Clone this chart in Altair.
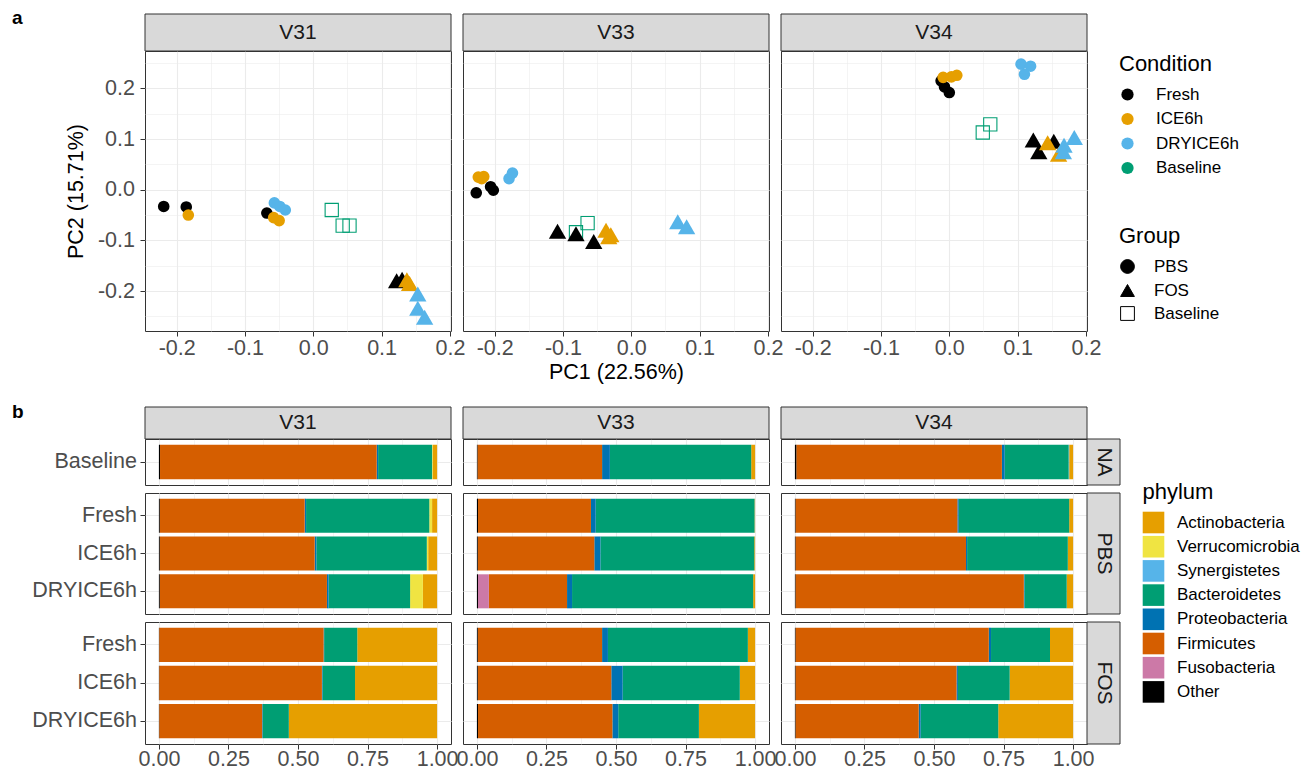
import altair as alt
import pandas as pd

FONT = "Liberation Sans"
W = 306
H_SCATTER = 280
ROW_H = {"NA": 46, "PBS": 121, "FOS": 122}

subjects = ["V31", "V33", "V34"]
conditions = ["Fresh", "ICE6h", "DRYICE6h", "Baseline"]
condition_colors = ["#000000", "#E69F00", "#56B4E9", "#009E73"]
groups = ["PBS", "FOS", "Baseline"]
group_shapes = ["circle", "triangle-up", "square"]
group_legend_fill = ["black", "black", "transparent"]
group_legend_stroke = ["black", "black", "black"]

# ---- PCA scores (panel a) ----
v31_condition = ["Fresh", "Fresh", "Fresh", "ICE6h", "ICE6h", "ICE6h", "DRYICE6h", "DRYICE6h", "DRYICE6h",
                 "Fresh", "Fresh", "ICE6h", "ICE6h", "DRYICE6h", "DRYICE6h", "DRYICE6h",
                 "Baseline", "Baseline", "Baseline"]
v31_group = ["PBS", "PBS", "PBS", "PBS", "PBS", "PBS", "PBS", "PBS", "PBS",
             "FOS", "FOS", "FOS", "FOS", "FOS", "FOS", "FOS",
             "Baseline", "Baseline", "Baseline"]
v31_pc1 = [-0.219, -0.186, -0.068, -0.183, -0.058, -0.050, -0.057, -0.049, -0.041,
           0.122, 0.130, 0.137, 0.141, 0.153, 0.153, 0.163,
           0.027, 0.043, 0.053]
v31_pc2 = [-0.033, -0.034, -0.046, -0.050, -0.055, -0.061, -0.026, -0.033, -0.040,
           -0.180, -0.177, -0.178, -0.185, -0.206, -0.234, -0.252,
           -0.040, -0.071, -0.071]

v33_condition = ["Fresh", "Fresh", "Fresh", "ICE6h", "ICE6h", "ICE6h", "DRYICE6h", "DRYICE6h",
                 "Fresh", "Fresh", "Fresh", "ICE6h", "ICE6h", "ICE6h", "DRYICE6h", "DRYICE6h",
                 "Baseline", "Baseline"]
v33_group = ["PBS", "PBS", "PBS", "PBS", "PBS", "PBS", "PBS", "PBS",
             "FOS", "FOS", "FOS", "FOS", "FOS", "FOS", "FOS", "FOS",
             "Baseline", "Baseline"]
v33_pc1 = [-0.227, -0.206, -0.202, -0.224, -0.216, -0.219, -0.179, -0.174,
           -0.108, -0.081, -0.055, -0.037, -0.030, -0.033, 0.068, 0.081,
           -0.064, -0.081]
v33_pc2 = [-0.006, 0.006, -0.001, 0.025, 0.026, 0.022, 0.022, 0.033,
           -0.082, -0.087, -0.102, -0.080, -0.089, -0.093, -0.063, -0.073,
           -0.066, -0.084]

v34_condition = ["Fresh", "Fresh", "Fresh", "ICE6h", "ICE6h", "ICE6h", "DRYICE6h", "DRYICE6h", "DRYICE6h",
                 "Fresh", "Fresh", "Fresh", "ICE6h", "ICE6h", "DRYICE6h", "DRYICE6h", "DRYICE6h",
                 "Baseline", "Baseline"]
v34_group = ["PBS", "PBS", "PBS", "PBS", "PBS", "PBS", "PBS", "PBS", "PBS",
             "FOS", "FOS", "FOS", "FOS", "FOS", "FOS", "FOS", "FOS",
             "Baseline", "Baseline"]
v34_pc1 = [-0.012, -0.007, 0.000, -0.009, 0.003, 0.011, 0.105, 0.119, 0.110,
           0.123, 0.131, 0.153, 0.144, 0.160, 0.183, 0.168, 0.167,
           0.060, 0.049]
v34_pc2 = [0.215, 0.203, 0.192, 0.222, 0.223, 0.226, 0.248, 0.244, 0.228,
           0.098, 0.075, 0.096, 0.093, 0.070, 0.103, 0.088, 0.075,
           0.129, 0.113]

# ---- relative abundance (panel b) ----
phyla = ["Actinobacteria", "Verrucomicrobia", "Synergistetes", "Bacteroidetes",
         "Proteobacteria", "Firmicutes", "Fusobacteria", "Other"]
phylum_colors = ["#E69F00", "#F0E442", "#56B4E9", "#009E73", "#0072B2", "#D55E00", "#CC79A7", "#000000"]
sample_rows = ["NA", "PBS", "PBS", "PBS", "FOS", "FOS", "FOS"]
sample_names = ["Baseline", "Fresh", "ICE6h", "DRYICE6h", "Fresh", "ICE6h", "DRYICE6h"]
# each row: abundances in phylum order above
v31_abund = [
    [0.016, 0.002, 0.000, 0.194, 0.005, 0.779, 0.000, 0.004],
    [0.018, 0.010, 0.000, 0.443, 0.005, 0.521, 0.000, 0.003],
    [0.032, 0.005, 0.000, 0.397, 0.006, 0.557, 0.000, 0.003],
    [0.051, 0.046, 0.000, 0.293, 0.006, 0.601, 0.000, 0.003],
    [0.287, 0.000, 0.000, 0.119, 0.002, 0.591, 0.000, 0.001],
    [0.295, 0.000, 0.000, 0.117, 0.002, 0.585, 0.000, 0.001],
    [0.533, 0.000, 0.000, 0.094, 0.002, 0.370, 0.000, 0.001],
]
v33_abund = [
    [0.014, 0.000, 0.000, 0.508, 0.028, 0.448, 0.000, 0.002],
    [0.002, 0.000, 0.000, 0.571, 0.017, 0.406, 0.000, 0.004],
    [0.003, 0.000, 0.000, 0.553, 0.022, 0.419, 0.000, 0.003],
    [0.007, 0.000, 0.000, 0.651, 0.018, 0.281, 0.039, 0.004],
    [0.026, 0.000, 0.000, 0.503, 0.021, 0.447, 0.000, 0.003],
    [0.055, 0.000, 0.000, 0.421, 0.041, 0.480, 0.000, 0.003],
    [0.202, 0.000, 0.000, 0.290, 0.021, 0.483, 0.000, 0.004],
]
v34_abund = [
    [0.014, 0.000, 0.002, 0.230, 0.010, 0.739, 0.000, 0.005],
    [0.014, 0.000, 0.000, 0.397, 0.005, 0.582, 0.000, 0.002],
    [0.019, 0.000, 0.000, 0.362, 0.004, 0.613, 0.000, 0.002],
    [0.023, 0.000, 0.000, 0.152, 0.002, 0.821, 0.000, 0.002],
    [0.083, 0.000, 0.000, 0.212, 0.008, 0.695, 0.000, 0.002],
    [0.228, 0.000, 0.000, 0.186, 0.005, 0.579, 0.000, 0.002],
    [0.269, 0.000, 0.000, 0.279, 0.007, 0.443, 0.000, 0.002],
]

pc_ticks_x = [-0.2, -0.15, -0.1, -0.05, 0.0, 0.05, 0.1, 0.15, 0.2]
pc_ticks_y = [-0.25, -0.2, -0.15, -0.1, -0.05, 0.0, 0.05, 0.1, 0.15, 0.2, 0.25]
ab_ticks = [0.0, 0.125, 0.25, 0.375, 0.5, 0.625, 0.75, 0.875, 1.0]

# ---- tables ----
pca_rows = []
for subj, cs, gs, xs, ys in zip(subjects,
                                [v31_condition, v33_condition, v34_condition],
                                [v31_group, v33_group, v34_group],
                                [v31_pc1, v33_pc1, v34_pc1],
                                [v31_pc2, v33_pc2, v34_pc2]):
    for c, g, a, b in zip(cs, gs, xs, ys):
        pca_rows.append({"Subject": subj, "Condition": c, "Group": g, "PC1": a, "PC2": b})
pca_df = pd.DataFrame(pca_rows)

stack_rank = {p: len(phyla) - 1 - i for i, p in enumerate(phyla)}
bar_rows = []
for subj, mat in zip(subjects, [v31_abund, v33_abund, v34_abund]):
    for row, name, vals in zip(sample_rows, sample_names, mat):
        for p, v in zip(phyla, vals):
            if v > 0:
                bar_rows.append({"Subject": subj, "Row": row, "Sample": name, "Phylum": p,
                                 "Abundance": v, "Rank": stack_rank[p]})
bar_df = pd.DataFrame(bar_rows)

MAJ10 = "abs(datum.value * 10 - round(datum.value * 10)) < 0.001"
MAJ4 = "abs(datum.value * 4 - round(datum.value * 4)) < 0.001"
PC_LABEL = MAJ10 + " ? replace(format(datum.value, '.1f'), '\u2212', '-') : ''"
AB_LABEL = MAJ4 + " ? format(datum.value, '.2f') : ''"


def make_axis(values, test, label_expr, labels, label_padding=5, title=None, title_padding=8):
    kw = dict(values=values, grid=True, gridColor="#EBEBEB",
              gridWidth={"condition": {"test": test, "value": 1.1}, "value": 0.55},
              domain=False, labelFlush=False, labelOverlap=False)
    if labels:
        kw.update(labels=True, labelExpr=label_expr, labelFont=FONT, labelFontSize=21.5,
                  labelColor="#4D4D4D", labelPadding=label_padding, ticks=True, tickSize=5,
                  tickColor="#333333", tickWidth=1,
                  tickOpacity={"condition": {"test": test, "value": 1}, "value": 0})
    else:
        kw.update(labels=False, ticks=False)
    if title:
        kw.update(title=title, titleFont=FONT, titleFontSize=21.5, titleFontWeight="normal",
                  titleColor="black", titlePadding=title_padding)
    else:
        kw["title"] = None
    return alt.Axis(**kw)


def strip_top(label, height):
    d = pd.DataFrame({"label": [label]})
    r = alt.Chart(d).mark_rect(fill="#D9D9D9", stroke="#333333", strokeWidth=1).encode(
        x=alt.value(0), x2=alt.value(W), y=alt.value(-height), y2=alt.value(0))
    t = alt.Chart(d).mark_text(font=FONT, fontSize=21, color="#1A1A1A", align="center",
                               baseline="middle").encode(
        x=alt.value(W / 2), y=alt.value(-height / 2), text="label:N")
    return [r, t]


def strip_right(label, h):
    d = pd.DataFrame({"label": [label]})
    r = alt.Chart(d).mark_rect(fill="#D9D9D9", stroke="#333333", strokeWidth=1).encode(
        x=alt.value(W), x2=alt.value(W + 33), y=alt.value(0), y2=alt.value(h))
    t = alt.Chart(d).mark_text(font=FONT, fontSize=21, color="#1A1A1A", align="center",
                               baseline="middle", angle=90).encode(
        x=alt.value(W + 16.5), y=alt.value(h / 2), text="label:N")
    return [r, t]


def panel_letter(letter, x, y):
    d = pd.DataFrame({"t": [letter]})
    return alt.Chart(d).mark_text(font=FONT, fontSize=19, fontWeight="bold", align="left",
                                  baseline="alphabetic", color="black").encode(
        x=alt.value(x), y=alt.value(y), text="t:N")


def scatter(i):
    subj = subjects[i]
    df = pca_df[pca_df.Subject == subj]
    xs = alt.Scale(domain=[-0.2464, 0.2016], nice=False, zero=False)
    ys = alt.Scale(domain=[-0.279, 0.274], nice=False, zero=False)
    xax = make_axis(pc_ticks_x, MAJ10, PC_LABEL, True, label_padding=1.5,
                    title="PC1 (22.56%)" if i == 1 else None, title_padding=2)
    yax = make_axis(pc_ticks_y, MAJ10, PC_LABEL, i == 0, label_padding=5.5,
                    title="PC2 (15.71%)" if i == 0 else None, title_padding=10)
    shape_scale = alt.Scale(domain=groups, range=group_shapes)
    if i == 2:
        cleg = alt.Legend(orient="none", legendX=338, legendY=3, title="Condition",
                          titleFont=FONT, titleFontSize=22, titleFontWeight="normal", titleColor="black",
                          labelFont=FONT, labelFontSize=17, labelColor="black", symbolType="circle",
                          symbolSize=150, symbolStrokeWidth=0, rowPadding=6.5, labelOffset=20,
                          titlePadding=10, padding=0)
        sleg = alt.Legend(orient="none", legendX=338, legendY=175, title="Group",
                          titleFont=FONT, titleFontSize=22, titleFontWeight="normal", titleColor="black",
                          labelFont=FONT, labelFontSize=17, labelColor="black",
                          symbolSize=190, symbolOpacity=1,
                          symbolStrokeWidth=1, rowPadding=5, labelOffset=18, titlePadding=10, padding=0)
    else:
        cleg = None
        sleg = None
    enc = dict(
        x=alt.X("PC1:Q", scale=xs, axis=xax),
        y=alt.Y("PC2:Q", scale=ys, axis=yax),
        color=alt.Color("Condition:N", scale=alt.Scale(domain=conditions, range=condition_colors), legend=cleg),
        shape=alt.Shape("Group:N", scale=shape_scale, legend=sleg),
    )
    pbs = alt.Chart(df[df.Group == "PBS"]).mark_point(filled=True, size=135, opacity=1).encode(**enc)
    bl = alt.Chart(df[df.Group == "Baseline"]).mark_point(filled=False, size=175, strokeWidth=1.1,
                                                          opacity=1).encode(**enc)
    fos = alt.Chart(df[df.Group == "FOS"]).mark_point(filled=True, size=300, opacity=1).encode(**enc)
    layers = [pbs, bl, fos]
    if i == 2:
        # legend-only layer (no rows drawn) giving the Group legend its open Baseline square
        leg_layer = alt.Chart(df).transform_filter("false").mark_point(
            filled=True, size=190, strokeWidth=1).encode(
            x=alt.X("PC1:Q", scale=xs, axis=xax),
            y=alt.Y("PC2:Q", scale=ys, axis=yax),
            shape=alt.Shape("Group:N", scale=shape_scale, legend=sleg),
            fill=alt.Fill("Group:N", scale=alt.Scale(domain=groups, range=group_legend_fill), legend=sleg),
            stroke=alt.Stroke("Group:N", scale=alt.Scale(domain=groups, range=group_legend_stroke),
                              legend=sleg),
        )
        layers.append(leg_layer)
    layers += strip_top(subj, 37)
    if i == 0:
        layers.append(panel_letter("a", 11 - 144, 21.7 - 49))
    return alt.layer(*layers).properties(width=W, height=H_SCATTER)


def bars(i, row):
    subj = subjects[i]
    df = bar_df[(bar_df.Subject == subj) & (bar_df.Row == row)]
    h = ROW_H[row]
    order = ["Baseline"] if row == "NA" else ["Fresh", "ICE6h", "DRYICE6h"]
    xax = make_axis(ab_ticks, MAJ4, AB_LABEL, row == "FOS", label_padding=-1)
    if i == 0:
        yax = alt.Axis(title=None, grid=True, gridColor="#EBEBEB", gridWidth=1.1, tickBand="center",
                       domain=False, labelFont=FONT, labelFontSize=21.5, labelColor="#4D4D4D",
                       labelPadding=3.5, ticks=True, tickSize=5, tickColor="#333333", labelOverlap=False)
    else:
        yax = alt.Axis(title=None, grid=True, gridColor="#EBEBEB", gridWidth=1.1, tickBand="center",
                       domain=False, labels=False, ticks=False)
    if i == 2 and row == "NA":
        leg = alt.Legend(orient="none", legendX=361.5, legendY=42.5, title="phylum",
                         titleFont=FONT, titleFontSize=22, titleFontWeight="normal", titleColor="black",
                         labelFont=FONT, labelFontSize=17, labelColor="black", symbolType="square",
                         symbolSize=467, symbolStrokeWidth=0, rowPadding=2.2, labelOffset=12.5,
                         titlePadding=8, padding=0)
    else:
        leg = None
    chart = alt.Chart(df).mark_bar(opacity=1).encode(
        x=alt.X("Abundance:Q", stack="zero",
                scale=alt.Scale(domain=[-0.05, 1.05], nice=False, zero=False), axis=xax),
        y=alt.Y("Sample:N", sort=order, scale=alt.Scale(paddingInner=0.1, paddingOuter=0.15), axis=yax),
        color=alt.Color("Phylum:N", scale=alt.Scale(domain=phyla, range=phylum_colors), legend=leg),
        order=alt.Order("Rank:Q", sort="ascending"),
    )
    layers = [chart]
    if row == "NA":
        layers += strip_top(subj, 32)
        if i == 0:
            layers.append(panel_letter("b", 11 - 144, 415.5 - 437))
    if i == 2:
        layers += strip_right(row, h)
    return alt.layer(*layers).properties(width=W, height=h)


def spacer():
    d = pd.DataFrame({"z": [0]})
    return alt.Chart(d).mark_point(opacity=0).encode(
        x=alt.value(0), y=alt.value(0)).properties(width=W, height=92,
                                                    view=alt.ViewBackground(strokeOpacity=0, fillOpacity=0))


panels = [scatter(0), scatter(1), scatter(2), spacer(), spacer(), spacer()]
for row in ["NA", "PBS", "FOS"]:
    for i in range(3):
        panels.append(bars(i, row))

chart = alt.concat(*panels, columns=3, spacing={"row": 8, "column": 12}, bounds="flush").resolve_scale(
    color="independent", shape="independent", fill="independent", stroke="independent"
).properties(
    padding={"left": 3, "top": 0, "right": 0, "bottom": 0}
).configure(font=FONT).configure_view(stroke="#333333", strokeWidth=1)

chart.save("out.html", embed_options={"renderer": "svg", "actions": False})
